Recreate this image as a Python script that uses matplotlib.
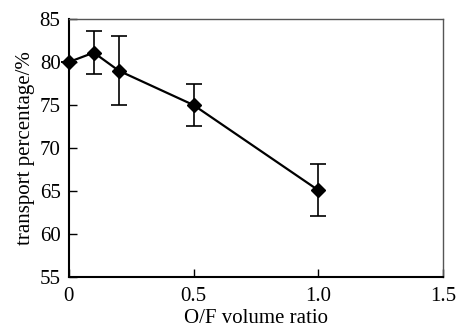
import matplotlib
matplotlib.use("Agg")
import matplotlib.pyplot as plt

ratio = [0.0, 0.1, 0.2, 0.5, 1.0]
transport = [80.0, 81.1, 79.0, 75.0, 65.1]
err = [0.0, 2.5, 4.0, 2.4, 3.0]

plt.rcParams['font.family'] = ['Liberation Serif', 'DejaVu Serif']

fig = plt.figure(figsize=(4.59, 3.29), dpi=100)
ax = fig.add_axes([0.150, 0.158, 0.815, 0.784])
ax.errorbar(ratio, transport, yerr=err, color='black', lw=1.6, marker='D',
            ms=7, capsize=5.5, elinewidth=1.2, capthick=1.2, clip_on=False, zorder=3)
ax.set_xlim(0, 1.5)
ax.set_ylim(55, 85)
ax.set_xticks([0, 0.5, 1.0, 1.5])
ax.set_xticklabels(['0', '0.5', '1.0', '1.5'])
ax.set_yticks([55, 60, 65, 70, 75, 80, 85])
ax.tick_params(direction='in', length=6, width=1, labelsize=15)
ax.tick_params(axis='y', pad=6)
ax.tick_params(axis='x', pad=7)
ax.set_xlabel('O/F volume ratio', fontsize=15, labelpad=2)
ax.set_ylabel('transport percentage/%', fontsize=15, labelpad=3)
for s in ['left', 'bottom']:
    ax.spines[s].set_linewidth(1.5)
for s in ['top', 'right']:
    ax.spines[s].set_color('#555555')
    ax.spines[s].set_linewidth(1.0)
fig.savefig('out.png', dpi=100)
